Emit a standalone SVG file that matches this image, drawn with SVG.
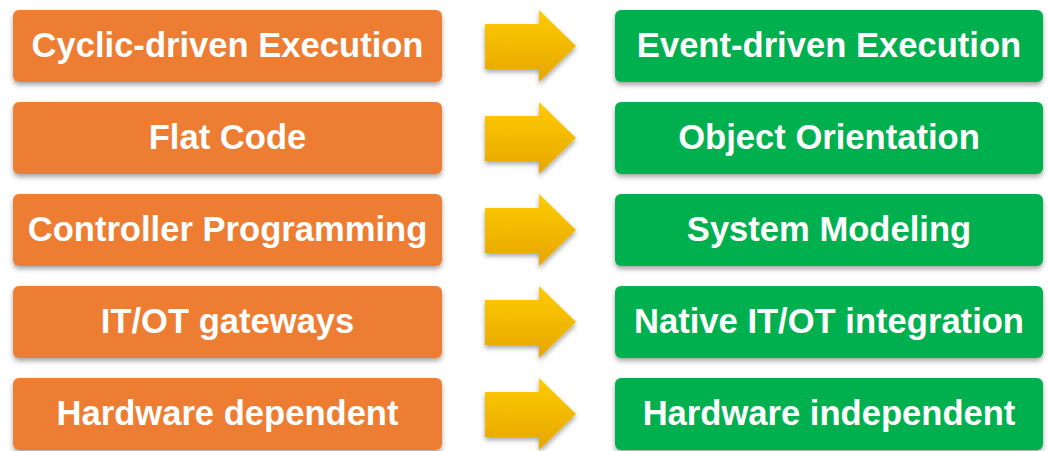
<svg xmlns="http://www.w3.org/2000/svg" width="1049" height="451" viewBox="0 0 1049 451">
  <defs>
    <filter id="shadow" x="-5%" y="-20%" width="110%" height="150%">
      <feDropShadow dx="0" dy="3" stdDeviation="2.5" flood-color="#000" flood-opacity="0.35"/>
    </filter>
    <linearGradient id="arrowFill" x1="0" y1="0" x2="0" y2="1">
      <stop offset="0" stop-color="#FFCC00"/>
      <stop offset="1" stop-color="#E6A600"/>
    </linearGradient>
    <path id="arrow" d="M485,24 H539 V10 L576,46 L539,82 V69 H485 Z"/>
  </defs>
  <style>
    .old { fill: #ED7D31; filter: url(#shadow); }
    .new { fill: #00B050; filter: url(#shadow); }
    .label { fill: #FFFFFF; font-family: "Liberation Sans", Arial, sans-serif; font-weight: bold; font-size: 34.6px; text-anchor: middle; }
    .arr { fill: url(#arrowFill); filter: url(#shadow); }
  </style>

  <!-- left column: current practice -->
  <g id="cyclic">
    <rect class="old" x="13" y="10" width="429" height="72" rx="6"/>
    <text class="label" x="227.5" y="57">Cyclic-driven Execution</text>
  </g>
  <g id="flat-code">
    <rect class="old" x="13" y="102" width="429" height="72" rx="6"/>
    <text class="label" x="227.5" y="149">Flat Code</text>
  </g>
  <g id="controller-programming">
    <rect class="old" x="13" y="194" width="429" height="72" rx="6"/>
    <text class="label" x="227.5" y="241">Controller Programming</text>
  </g>
  <g id="itot-gateways">
    <rect class="old" x="13" y="286" width="429" height="72" rx="6"/>
    <text class="label" x="227.5" y="333">IT/OT gateways</text>
  </g>
  <g id="hw-dependent">
    <rect class="old" x="13" y="378" width="429" height="72" rx="6"/>
    <text class="label" x="227.5" y="425">Hardware dependent</text>
  </g>

  <!-- right column: target practice -->
  <g id="event-driven">
    <rect class="new" x="615" y="10" width="428" height="72" rx="6"/>
    <text class="label" x="829" y="57">Event-driven Execution</text>
  </g>
  <g id="object-orientation">
    <rect class="new" x="615" y="102" width="428" height="72" rx="6"/>
    <text class="label" x="829" y="149">Object Orientation</text>
  </g>
  <g id="system-modeling">
    <rect class="new" x="615" y="194" width="428" height="72" rx="6"/>
    <text class="label" x="829" y="241">System Modeling</text>
  </g>
  <g id="native-itot">
    <rect class="new" x="615" y="286" width="428" height="72" rx="6"/>
    <text class="label" x="829" y="333">Native IT/OT integration</text>
  </g>
  <g id="hw-independent">
    <rect class="new" x="615" y="378" width="428" height="72" rx="6"/>
    <text class="label" x="829" y="425">Hardware independent</text>
  </g>

  <!-- transition arrows -->
  <g id="connectors">
    <use href="#arrow" class="arr"/>
    <use href="#arrow" class="arr" transform="translate(0,92)"/>
    <use href="#arrow" class="arr" transform="translate(0,184)"/>
    <use href="#arrow" class="arr" transform="translate(0,276)"/>
    <use href="#arrow" class="arr" transform="translate(0,368)"/>
  </g>
</svg>
